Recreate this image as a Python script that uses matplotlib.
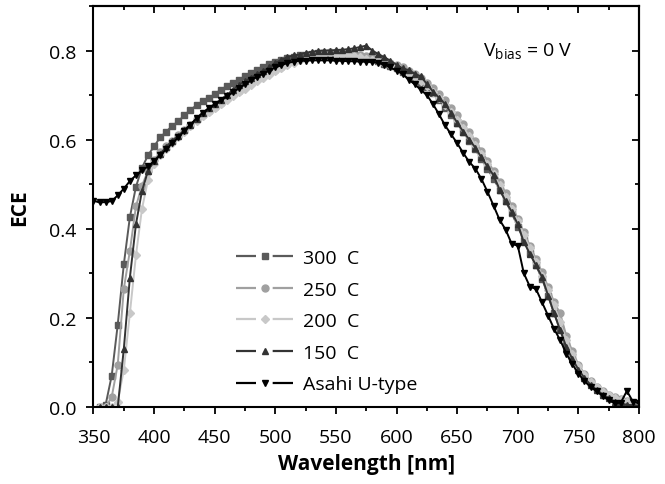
import numpy as np
import matplotlib
matplotlib.use("Agg")
import matplotlib.pyplot as plt
from matplotlib.ticker import MultipleLocator, FormatStrFormatter
from matplotlib.lines import Line2D
from matplotlib.legend_handler import HandlerTuple

plt.rcParams['font.family'] = ['Open Sans', 'DejaVu Sans']
plt.rcParams['mathtext.fontset'] = 'custom'
plt.rcParams['mathtext.rm'] = 'Open Sans'

# wavelength grids (nm)
wl = list(range(355, 805, 5))
wl_asahi = list(range(350, 805, 5))

ece_300 = [0.000, 0.005, 0.070, 0.185, 0.320, 0.426, 0.494, 0.537, 0.565, 0.585,
           0.605, 0.618, 0.631, 0.641, 0.655, 0.667, 0.677, 0.686, 0.693, 0.702,
           0.712, 0.720, 0.727, 0.735, 0.742, 0.750, 0.757, 0.764, 0.770, 0.775,
           0.779, 0.783, 0.786, 0.789, 0.791, 0.793, 0.794, 0.795, 0.795, 0.794,
           0.793, 0.791, 0.789, 0.787, 0.784, 0.780, 0.776, 0.770, 0.765, 0.760,
           0.752, 0.745, 0.737, 0.728, 0.718, 0.705, 0.690, 0.672, 0.655, 0.637,
           0.618, 0.598, 0.578, 0.556, 0.535, 0.512, 0.488, 0.462, 0.435, 0.405,
           0.375, 0.345, 0.318, 0.288, 0.250, 0.210, 0.175, 0.140, 0.112, 0.088,
           0.068, 0.052, 0.040, 0.030, 0.022, 0.017, 0.013, 0.010, 0.008, 0.006]

ece_250 = [0.000, 0.000, 0.022, 0.095, 0.265, 0.350, 0.450, 0.497, 0.530, 0.555,
           0.572, 0.585, 0.597, 0.610, 0.622, 0.634, 0.646, 0.656, 0.665, 0.674,
           0.683, 0.693, 0.702, 0.710, 0.719, 0.727, 0.736, 0.743, 0.750, 0.757,
           0.764, 0.770, 0.776, 0.782, 0.786, 0.790, 0.793, 0.795, 0.796, 0.796,
           0.795, 0.793, 0.791, 0.789, 0.787, 0.784, 0.781, 0.777, 0.773, 0.768,
           0.762, 0.755, 0.747, 0.738, 0.728, 0.716, 0.702, 0.688, 0.672, 0.655,
           0.636, 0.617, 0.596, 0.575, 0.553, 0.530, 0.506, 0.480, 0.452, 0.423,
           0.392, 0.362, 0.332, 0.302, 0.270, 0.235, 0.210, 0.160, 0.125, 0.095,
           0.074, 0.058, 0.045, 0.035, 0.028, 0.022, 0.017, 0.013, 0.010, 0.008]

ece_200 = [0.000, 0.000, 0.000, 0.012, 0.083, 0.210, 0.340, 0.445, 0.510, 0.545,
           0.565, 0.580, 0.593, 0.606, 0.618, 0.630, 0.642, 0.652, 0.661, 0.670,
           0.679, 0.688, 0.697, 0.706, 0.714, 0.722, 0.731, 0.739, 0.746, 0.753,
           0.760, 0.767, 0.773, 0.779, 0.784, 0.788, 0.791, 0.793, 0.794, 0.793,
           0.791, 0.789, 0.787, 0.785, 0.782, 0.779, 0.776, 0.772, 0.767, 0.762,
           0.755, 0.748, 0.740, 0.731, 0.720, 0.707, 0.693, 0.678, 0.662, 0.645,
           0.627, 0.608, 0.588, 0.567, 0.545, 0.522, 0.498, 0.472, 0.445, 0.417,
           0.387, 0.356, 0.325, 0.295, 0.262, 0.228, 0.190, 0.150, 0.118, 0.092,
           0.072, 0.056, 0.044, 0.034, 0.027, 0.021, 0.016, 0.012, 0.009, 0.007]

ece_150 = [0.000, 0.000, 0.000, 0.000, 0.130, 0.290, 0.410, 0.485, 0.530, 0.552,
           0.568, 0.584, 0.598, 0.609, 0.622, 0.634, 0.646, 0.659, 0.671, 0.680,
           0.690, 0.700, 0.712, 0.723, 0.731, 0.739, 0.747, 0.754, 0.762, 0.772,
           0.779, 0.785, 0.789, 0.791, 0.795, 0.797, 0.799, 0.800, 0.800, 0.801,
           0.802, 0.803, 0.805, 0.808, 0.811, 0.800, 0.792, 0.785, 0.777, 0.768,
           0.760, 0.756, 0.748, 0.742, 0.725, 0.708, 0.694, 0.680, 0.660, 0.638,
           0.618, 0.600, 0.582, 0.560, 0.540, 0.520, 0.488, 0.462, 0.438, 0.410,
           0.370, 0.344, 0.318, 0.292, 0.250, 0.210, 0.172, 0.135, 0.108, 0.084,
           0.065, 0.050, 0.038, 0.028, 0.020, 0.012, 0.008, 0.005, 0.004, 0.003]

ece_asahi = [0.463, 0.459, 0.460, 0.462, 0.475, 0.490, 0.507, 0.520, 0.531, 0.540,
             0.552, 0.565, 0.578, 0.592, 0.605, 0.620, 0.634, 0.648, 0.660, 0.670,
             0.679, 0.688, 0.697, 0.706, 0.715, 0.724, 0.733, 0.741, 0.748, 0.755,
             0.762, 0.767, 0.772, 0.775, 0.777, 0.777, 0.778, 0.778, 0.778, 0.778,
             0.777, 0.777, 0.776, 0.776, 0.775, 0.775, 0.774, 0.772, 0.768, 0.762,
             0.755, 0.747, 0.735, 0.724, 0.712, 0.700, 0.680, 0.657, 0.632, 0.612,
             0.592, 0.570, 0.550, 0.535, 0.512, 0.483, 0.452, 0.420, 0.398, 0.366,
             0.362, 0.300, 0.270, 0.265, 0.235, 0.205, 0.175, 0.150, 0.120, 0.096,
             0.075, 0.058, 0.045, 0.035, 0.025, 0.015, 0.008, 0.010, 0.036, 0.012,
             0.008]

series = [
    ("300  C", wl, ece_300, "#5a5a5a", "s"),
    ("250  C", wl, ece_250, "#a0a0a0", "o"),
    ("200  C", wl, ece_200, "#c8c8c8", "D"),
    ("150  C", wl, ece_150, "#333333", "^"),
    ("Asahi U-type", wl_asahi, ece_asahi, "#000000", "v"),
]

fig = plt.figure(figsize=(6.65, 4.85), dpi=100)
ax = fig.add_axes([0.1406, 0.1588, 0.8203, 0.8268])

handles = []
labels = []
for label, x, y, col, mk in series:
    ms = 4.2 if mk == "D" else 5
    ax.plot(x, y, color=col, lw=1.4, marker=mk, ms=ms, mec=col, mfc=col)
    # legend look: line - marker - line
    seg = Line2D([], [], color=col, lw=1.6, linestyle=(0, (9.0, 7.5, 30)))
    dot = Line2D([], [], color=col, lw=0, marker=mk, ms=ms, mec=col, mfc=col)
    handles.append((seg, dot))
    labels.append(label)

ax.set_xlim(350, 800)
ax.set_ylim(0, 0.9)
ax.xaxis.set_major_locator(MultipleLocator(50))
ax.xaxis.set_minor_locator(MultipleLocator(25))
ax.yaxis.set_major_locator(MultipleLocator(0.2))
ax.yaxis.set_minor_locator(MultipleLocator(0.1))
ax.yaxis.set_major_formatter(FormatStrFormatter('%.1f'))
ax.tick_params(which='major', direction='out', length=5, width=1.3, labelsize=14)
ax.tick_params(which='minor', direction='out', length=3, width=1.3)
ax.tick_params(axis='x', which='major', pad=10)
ax.tick_params(axis='y', which='major', pad=7)
for s in ax.spines.values():
    s.set_linewidth(1.5)

# mirrored ticks, pointing inward
top = ax.secondary_xaxis('top')
top.xaxis.set_major_locator(MultipleLocator(50))
top.xaxis.set_minor_locator(MultipleLocator(25))
top.tick_params(which='major', direction='in', length=5, width=1.3, labeltop=False)
top.tick_params(which='minor', direction='in', length=3, width=1.3)
top.spines['top'].set_linewidth(1.5)
right = ax.secondary_yaxis('right')
right.yaxis.set_major_locator(MultipleLocator(0.2))
right.yaxis.set_minor_locator(MultipleLocator(0.1))
right.tick_params(which='major', direction='in', length=5, width=1.3, labelright=False)
right.tick_params(which='minor', direction='in', length=3, width=1.3)
right.spines['right'].set_linewidth(1.5)

ax.set_xlabel("Wavelength [nm]", fontsize=15, fontweight='bold', labelpad=5)
ax.set_ylabel("ECE", fontsize=15, fontweight='bold', labelpad=14)

ax.text(671, 0.8, r"V$_{\mathregular{bias}}$ = 0 V", fontsize=14, ha='left', va='center')

leg = ax.legend(handles, labels, handler_map={tuple: HandlerTuple(ndivide=1)},
                loc='lower left', bbox_to_anchor=(0.237, 0.0), frameon=False,
                fontsize=14, handlelength=2.9, handletextpad=0.5,
                labelspacing=0.7, borderaxespad=0.3)

fig.savefig("out.png", dpi=100)
